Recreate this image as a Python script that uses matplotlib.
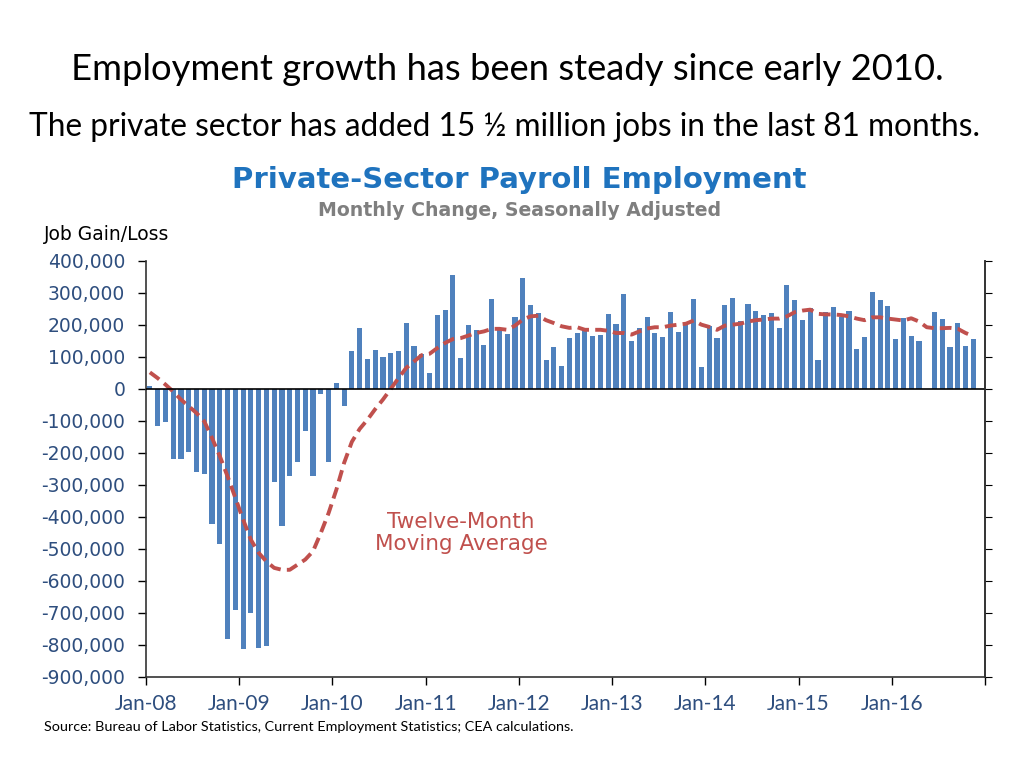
import matplotlib
matplotlib.use("Agg")
import matplotlib.pyplot as plt
import numpy as np

# Monthly change in private payroll employment, Jan-08 .. Nov-16 (None = missing bar), thousands
job_change = [
    10, -115, -104, -218, -218, -197, -259, -265, -423, -484, -780, -692,
    -814, -700, -808, -803, -290, -429, -273, -228, -132, -273, -16, -228,
    20, -54, 120, 192, 95, 123, 101, 114, 120, 206, 133, 108,
    50, 231, 248, 356, 98, 201, 184, 139, 281, 185, 173, 226,
    348, 261, 236, 90, 131, 73, 160, 176, 184, 165, 170, 233,
    204, 298, 151, 192, 225, 174, 161, 241, 179, 200, 281, 70,
    196, 160, 261, 284, 214, 267, 245, 231, 237, 190, 326, 278,
    215, 253, 90, 241, 256, 226, 245, 124, 163, 303, 278, 258,
    157, 223, 167, 149, None, 240, 220, 131, 207, 134, 156,
]
moving_avg = [
    52, 34, 14, -8, -33, -54, -75, -101, -153, -210, -273, -340,
    -408, -471, -512, -539, -559, -565, -565, -549, -533, -507, -450, -388,
    -315, -231, -165, -125, -96, -63, -33, 0, 34, 66, 86, 106,
    110, 128, 144, 156, 159, 167, 175, 180, 188, 188, 185, 198,
    217, 227, 229, 215, 206, 196, 191, 193, 185, 185, 185, 182,
    175, 175, 170, 180, 189, 193, 193, 198, 201, 204, 214, 201,
    194, 185, 198, 201, 204, 211, 215, 217, 220, 220, 227, 240,
    245, 248, 235, 233, 233, 231, 227, 220, 215, 224, 224, 220,
    217, 214, 221, 211, 193, 190, 190, 191, 188, 175, 165,
]
tick_labels = ["Jan-08", "Jan-09", "Jan-10", "Jan-11", "Jan-12",
               "Jan-13", "Jan-14", "Jan-15", "Jan-16"]
y_ticks = list(range(-900000, 400001, 100000))

LATO = ["Lato", "DejaVu Sans"]
VERD = ["DejaVu Sans"]
plt.rcParams["font.family"] = LATO

fig = plt.figure(figsize=(10.24, 7.68), dpi=100)
ax = fig.add_axes([146/1024, 1-677/768, (985-146)/1024, (677-261)/768])

n = len(job_change)
x = np.arange(n) + 0.5
vals = np.array([np.nan if v is None else v * 1000 for v in job_change], dtype=float)
ax.bar(x, np.nan_to_num(vals), width=0.66, color="#4F81BD", zorder=2)
ax.plot(x, np.array(moving_avg) * 1000, color="#C0504D", lw=2.8,
        dashes=(3, 1.6), zorder=3)
ax.axhline(0, color="black", lw=1.2, zorder=4)

ax.set_xlim(0, 108)
ax.set_ylim(-900000, 400000)
ax.set_yticks(y_ticks)
ax.set_yticklabels([f"{v:,}" for v in y_ticks], color="#2E4E7E", fontsize=13.5,
                   family=VERD)
ax.set_xticks(np.arange(0, 109, 12))
ax.set_xticklabels(tick_labels + [""], color="#2E4E7E", fontsize=15)
ax.tick_params(axis="y", direction="out", length=6, width=1, pad=9)
ax.tick_params(axis="x", direction="out", length=6, width=1, pad=6)
for s in ["left", "right", "bottom"]:
    ax.spines[s].set_color("#333333")
    ax.spines[s].set_linewidth(1.2)
ax.spines["top"].set_visible(False)
ax2 = ax.twinx()
ax2.set_ylim(ax.get_ylim())
ax2.set_yticks(y_ticks)
ax2.set_yticklabels([])
ax2.tick_params(axis="y", direction="out", length=5)
ax2.spines["right"].set_color("#333333")
ax2.spines["right"].set_linewidth(1.2)
for s in ["top", "left", "bottom"]:
    ax2.spines[s].set_visible(False)

ax.text((461-146)/839, (677-533)/416, "Twelve-Month\nMoving Average", transform=ax.transAxes,
        ha="center", va="center", color="#C0504D", fontsize=15.5, linespacing=1.15,
        family=VERD)

fig.text(0.495, 1-70/768, "Employment growth has been steady since early 2010.",
         ha="center", va="center", fontsize=26.2, color="black")
fig.text(0.493, 1-127/768, "The private sector has added 15 \u00bd million jobs in the last 81 months.",
         ha="center", va="center", fontsize=22.8, color="black")
fig.text(0.507, 1-180/768, "Private-Sector Payroll Employment", ha="center", va="center",
         fontsize=21, fontweight="bold", color="#1F73BE", family=VERD)
fig.text(0.507, 1-211/768, "Monthly Change, Seasonally Adjusted", ha="center", va="center",
         fontsize=13.6, fontweight="bold", color="#7F7F7F", family=VERD)
fig.text(44/1024, 1-235/768, "Job Gain/Loss", ha="left", va="center", fontsize=13.5,
         color="black", family=VERD)
fig.text(44/1024, 1-727/768, "Source: Bureau of Labor Statistics, Current Employment Statistics; CEA calculations.",
         ha="left", va="center", fontsize=10.4, color="black")

fig.savefig("out.png", dpi=100)
